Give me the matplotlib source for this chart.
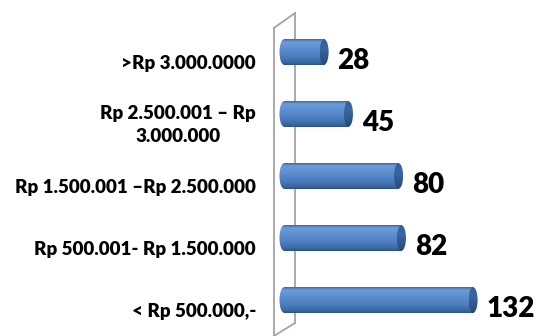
import matplotlib
matplotlib.use('Agg')
import matplotlib.pyplot as plt
import numpy as np
from matplotlib.colors import LinearSegmentedColormap
from matplotlib.patches import Ellipse

# income brackets, bottom to top
categories = ['< Rp 500.000,-',
              'Rp 500.001- Rp 1.500.000',
              'Rp 1.500.001 \u2013Rp 2.500.000',
              'Rp 2.500.001 \u2013 Rp\n3.000.000',
              '>Rp 3.000.0000']
counts = [132, 82, 80, 45, 28]

plt.rcParams['font.family'] = ['Lato', 'DejaVu Sans']

fig = plt.figure(figsize=(5.37, 3.36), dpi=100)
ax = fig.add_axes([272 / 537, 0, 265 / 537, 1])
ax.set_axis_off()

bar_h = 0.41
cap_w = 6.3
grad = np.linspace(0, 1, 64).reshape(-1, 1)

body_cmap = LinearSegmentedColormap.from_list('body', [
    (0.0, '#3d6aa6'), (0.1, '#6c9bd8'), (0.3, '#6192d3'),
    (0.65, '#4d7fc0'), (0.9, '#3a68a3'), (1.0, '#2d5386')])
cap_cmap = LinearSegmentedColormap.from_list('cap', [
    (0.0, '#33609a'), (0.35, '#3b679f'), (1.0, '#274878')])


def shade(patch, cmap, x0, x1, y, z):
    ax.add_patch(patch)
    im = ax.imshow(grad, cmap=cmap, aspect='auto', origin='upper',
                   extent=(x0, x1, y - bar_h / 2, y + bar_h / 2),
                   interpolation='bilinear', zorder=z)
    im.set_clip_path(patch)


# back wall of the 3d plot area
wall = dict(color='#a4a4a4', lw=1.3, transform=ax.transAxes, clip_on=False, zorder=1)
ax.plot([0.0075, 0.0075], [0.0, 0.917], **wall)
ax.plot([0.0868, 0.0868], [0.0387, 0.961], **wall)
ax.plot([0.0075, 0.0868], [0.917, 0.961], **wall)
ax.plot([0.0075, 0.0868], [0.0, 0.0387], **wall)

ypos = np.arange(len(categories))
bars = ax.barh(ypos, counts, height=bar_h, color='none', edgecolor='none', zorder=2)

for y, v, bar in zip(ypos, counts, bars):
    left = Ellipse((0, y), cap_w, bar_h, facecolor='none', edgecolor='none')
    shade(left, body_cmap, -cap_w / 2, 0, y, 2)
    shade(bar, body_cmap, 0, v, y, 3)
    end = Ellipse((v, y), cap_w, bar_h, facecolor='none', edgecolor='none')
    shade(end, cap_cmap, v - cap_w / 2, v + cap_w / 2, y, 4)
    ax.annotate(str(v), xy=(v, y), xytext=(9.7, -6.3), textcoords='offset points',
                ha='left', va='center', fontsize=20, fontweight=800, color='black')

for y, lab in zip(ypos, categories):
    ax.annotate(lab, xy=(0, y), xycoords=('axes fraction', 'data'),
                xytext=(-11.5, -8.0), textcoords='offset points',
                ha='right', va='center', multialignment='center',
                fontsize=13.5, fontweight=800, color='black',
                linespacing=1.45, annotation_clip=False)

ax.set_xlim(-8.37, 176.6)
ax.set_ylim(-36 / 62, 300 / 62)

fig.savefig('out.png', dpi=100)
